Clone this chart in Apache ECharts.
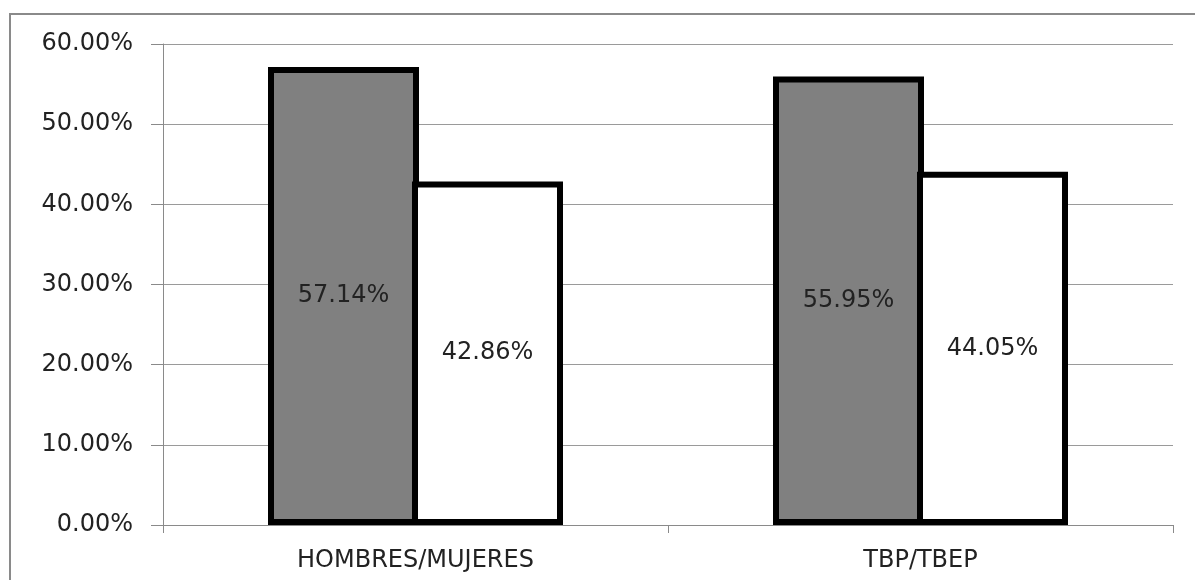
<!DOCTYPE html>
<html>
<head>
<meta charset="utf-8">
<script src="https://cdn.jsdelivr.net/npm/echarts@6/dist/echarts.min.js"></script>
<style>
  html, body { margin: 0; padding: 0; background: #fff; overflow: hidden; }
  #frame { position: absolute; left: 9px; top: 13px; width: 1300px; height: 700px;
           border-left: 2px solid #8a8a8a; border-top: 2px solid #8a8a8a; box-sizing: border-box; }
  #chart { position: absolute; left: 0; top: 0; width: 1195px; height: 580px; }
</style>
</head>
<body>
<div id="frame"></div>
<div id="chart"></div>
<script>
// Categories and the two shares for each pair
const categories = ['HOMBRES/MUJERES', 'TBP/TBEP'];
const firstShare = [0.5714, 0.5595];
const secondShare = [0.4286, 0.4405];
const yMin = 0, yMax = 0.6, yStep = 0.1;

const pct = v => (v * 100).toFixed(2) + '%';
const FONT = 'DejaVu Sans';

const chart = echarts.init(document.getElementById('chart'), null, { renderer: 'canvas' });

const barLabel = {
  show: true,
  position: 'inside',
  color: '#222',
  fontFamily: FONT,
  fontSize: 24,
  formatter: p => pct(p.value)
};

// Bars sit side by side with overlapping outlines so the shared edge is one line
const BAR_W = 151;
const OUTLINE = 6;
const gapPct = (-(OUTLINE + 1) / BAR_W * 100).toFixed(2) + '%';

chart.setOption({
  animation: false,
  backgroundColor: 'transparent',
  grid: { left: 163, right: 22, top: 44, bottom: 55, containLabel: false },
  xAxis: {
    type: 'category',
    data: categories,
    axisLine: { lineStyle: { color: '#8a8a8a', width: 1 } },
    axisTick: { show: true, alignWithLabel: false, length: 8, lineStyle: { color: '#8a8a8a' } },
    axisLabel: { color: '#222', fontFamily: FONT, fontSize: 24, margin: 24 },
    splitLine: { show: false }
  },
  yAxis: {
    type: 'value',
    min: yMin, max: yMax, interval: yStep,
    axisLine: { show: true, lineStyle: { color: '#8a8a8a', width: 1 } },
    axisTick: { show: true, length: 12, lineStyle: { color: '#8a8a8a' } },
    axisLabel: { color: '#222', fontFamily: FONT, fontSize: 24, margin: 30, formatter: v => pct(v) },
    splitLine: { show: true, lineStyle: { color: '#9a9a9a', width: 1 } }
  },
  series: [
    {
      type: 'bar',
      data: firstShare,
      barWidth: BAR_W,
      barGap: gapPct,
      itemStyle: { color: '#808080', borderColor: '#000', borderWidth: OUTLINE },
      label: barLabel
    },
    {
      type: 'bar',
      data: secondShare,
      barWidth: BAR_W,
      barGap: gapPct,
      itemStyle: { color: '#ffffff', borderColor: '#000', borderWidth: OUTLINE },
      label: barLabel
    }
  ]
});
</script>
</body>
</html>
